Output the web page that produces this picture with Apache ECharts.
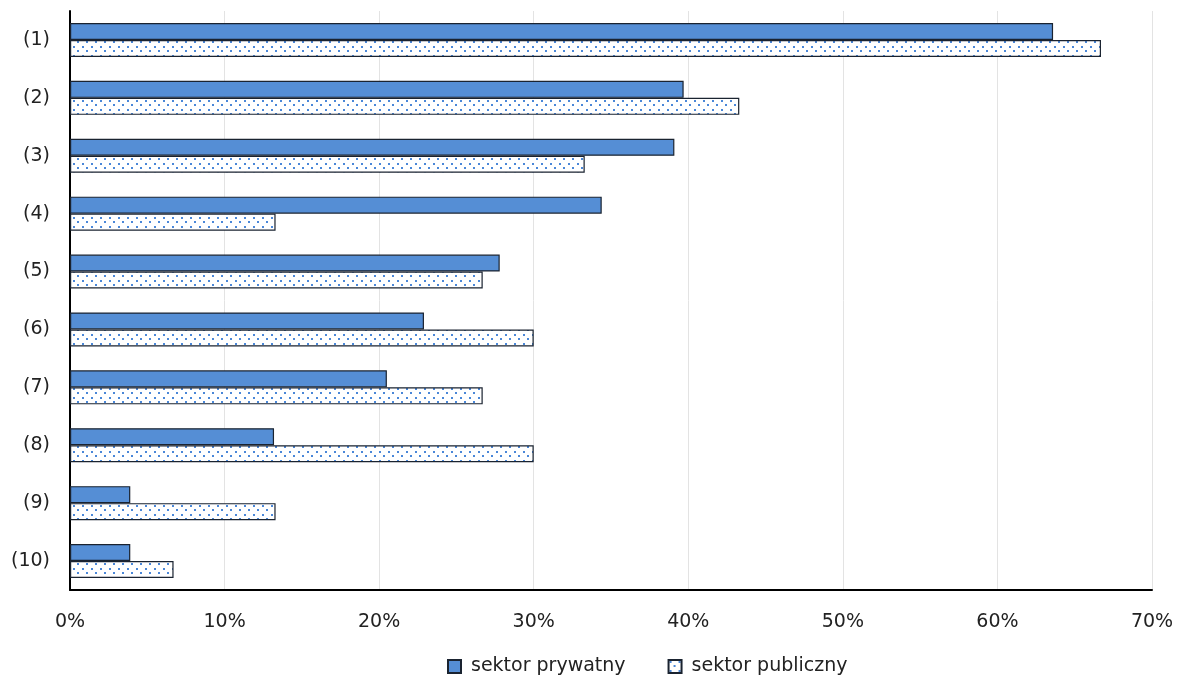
<!DOCTYPE html>
<html>
<head>
<meta charset="utf-8">
<script src="https://cdn.jsdelivr.net/npm/echarts@6/dist/echarts.min.js"></script>
<style>
html,body{margin:0;padding:0;background:#fff;}
#chart{width:1183px;height:682px;}
</style>
</head>
<body>
<div id="chart"></div>
<script>
// Categories, top to bottom
const categories = ['(1)', '(2)', '(3)', '(4)', '(5)', '(6)', '(7)', '(8)', '(9)', '(10)'];
// Share of responses, percent
const privateSector = [63.6, 39.7, 39.1, 34.4, 27.8, 22.9, 20.5, 13.2, 3.9, 3.9];
const publicSector = [66.7, 43.3, 33.3, 13.3, 26.7, 30.0, 26.7, 30.0, 13.3, 6.7];
const seriesNames = ['sektor prywatny', 'sektor publiczny'];
const xTicks = [0, 10, 20, 30, 40, 50, 60, 70];

// Dotted fill for the public-sector bars
function dotPattern() {
  const c = document.createElement('canvas');
  c.width = 9; c.height = 9;
  const g = c.getContext('2d');
  g.fillStyle = '#ffffff';
  g.fillRect(0, 0, 9, 9);
  g.fillStyle = '#4a87d8';
  g.fillRect(1, 1, 2, 2);
  g.fillRect(5, 5, 2, 2);
  return c;
}

const font = 'Tahoma, "DejaVu Sans", Verdana, sans-serif';
const chart = echarts.init(document.getElementById('chart'), null, { renderer: 'canvas' });

chart.setOption({
  animation: false,
  textStyle: { fontFamily: font },
  grid: { left: 70, right: 31, top: 11, bottom: 92, containLabel: false },
  legend: {
    top: 652,
    left: 442,
    icon: 'rect',
    itemWidth: 13,
    itemHeight: 13,
    itemGap: 42,
    textStyle: { fontSize: 19, color: '#222', fontFamily: font, padding: [0, 0, 0, 5] },
    data: seriesNames
  },
  xAxis: {
    type: 'value',
    min: xTicks[0],
    max: xTicks[xTicks.length - 1],
    interval: 10,
    axisLine: { show: true, lineStyle: { color: '#000', width: 2 } },
    axisTick: { show: false },
    axisLabel: { formatter: '{value}%', fontSize: 19, color: '#222', margin: 23 },
    splitLine: { show: true, lineStyle: { color: '#e3e3e3', width: 1 } }
  },
  yAxis: {
    type: 'category',
    data: categories,
    inverse: true,
    axisLine: { show: true, lineStyle: { color: '#000', width: 2 } },
    axisTick: { show: false },
    axisLabel: { fontSize: 19, color: '#222', margin: 20 }
  },
  series: [
    {
      name: seriesNames[0],
      type: 'bar',
      data: privateSector,
      barWidth: 17,
      barGap: '0%',
      itemStyle: { color: '#558ed5', borderColor: '#1a2330', borderWidth: 1.2 }
    },
    {
      name: seriesNames[1],
      type: 'bar',
      data: publicSector,
      barWidth: 17,
      barGap: '0%',
      itemStyle: { color: { image: dotPattern(), repeat: 'repeat' }, borderColor: '#1a2330', borderWidth: 1.2 }
    }
  ]
});
</script>
</body>
</html>
